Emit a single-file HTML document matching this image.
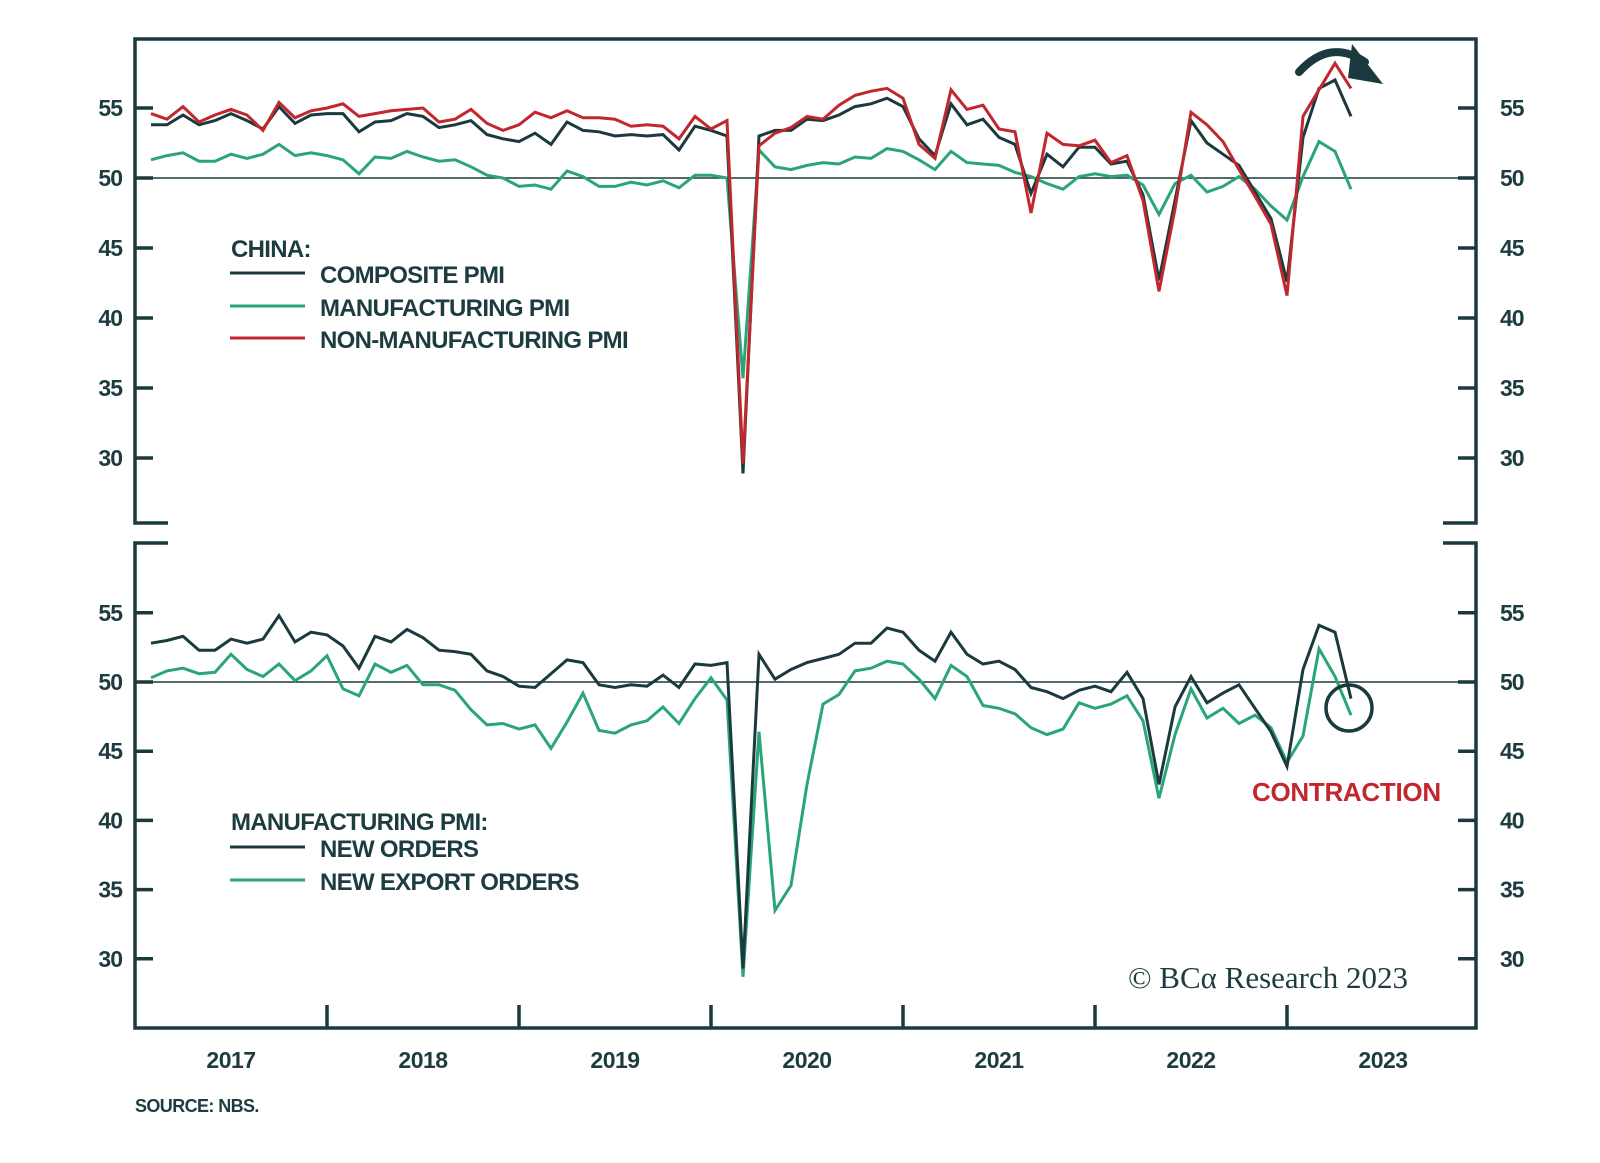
<!DOCTYPE html>
<html><head><meta charset="utf-8"><style>
html,body{margin:0;padding:0;background:#fff;}
svg{display:block;}
text{font-family:"Liberation Sans",sans-serif;font-weight:bold;fill:#1d3c40;}
</style></head><body>
<svg id="chart" width="1600" height="1163" viewBox="0 0 1600 1163" xmlns="http://www.w3.org/2000/svg">
<g id="frame"></g>
<g id="axes"></g>
<g id="series"></g>
<g id="legend-top">
  <text x="231" y="257" font-size="24" letter-spacing="-0.7">CHINA:</text>
  <line x1="230" y1="273" x2="305" y2="273" stroke="#1b3a3d" stroke-width="3"/>
  <text x="320" y="283" font-size="24" letter-spacing="-0.7">COMPOSITE PMI</text>
  <line x1="230" y1="306" x2="305" y2="306" stroke="#2aa57a" stroke-width="3"/>
  <text x="320" y="316" font-size="24" letter-spacing="-0.7">MANUFACTURING PMI</text>
  <line x1="230" y1="338" x2="305" y2="338" stroke="#c1272d" stroke-width="3"/>
  <text x="320" y="348" font-size="24" letter-spacing="-0.7">NON-MANUFACTURING PMI</text>
</g>
<g id="legend-bottom">
  <text x="231" y="830" font-size="24" letter-spacing="-0.7">MANUFACTURING PMI:</text>
  <line x1="230" y1="847" x2="305" y2="847" stroke="#1b3a3d" stroke-width="3"/>
  <text x="320" y="857" font-size="24" letter-spacing="-0.7">NEW ORDERS</text>
  <line x1="230" y1="880" x2="305" y2="880" stroke="#2aa57a" stroke-width="3"/>
  <text x="320" y="890" font-size="24" letter-spacing="-0.7">NEW EXPORT ORDERS</text>
</g>
<g>
  <path d="M1299,72 Q1330,38 1365,62" fill="none" stroke="#1b3a3d" stroke-width="8" stroke-linecap="round"/>
  <polygon points="1352,44 1383,84 1348,78" fill="#1b3a3d"/>
</g>
<circle cx="1349" cy="708" r="23" fill="none" stroke="#1b3a3d" stroke-width="3.5"/>
<text x="1252" y="801" font-size="26" style="fill:#c1272d" letter-spacing="-0.3">CONTRACTION</text>
<text x="1128" y="988" font-size="31" style="font-family:'Liberation Serif',serif;font-weight:normal">© BCα Research 2023</text>
<text x="135" y="1112" font-size="18" letter-spacing="-0.6">SOURCE: NBS.</text>
</svg>
<script>
const composite=[53.8,53.8,54.5,53.8,54.1,54.6,54.1,53.5,55.1,53.9,54.5,54.6,
54.6,53.3,54.0,54.1,54.6,54.4,53.6,53.8,54.1,53.1,52.8,52.6,
53.2,52.4,54.0,53.4,53.3,53.0,53.1,53.0,53.1,52.0,53.7,53.4,
53.0,28.9,53.0,53.4,53.4,54.2,54.1,54.5,55.1,55.3,55.7,55.1,
52.8,51.6,55.3,53.8,54.2,52.9,52.4,48.9,51.7,50.8,52.2,52.2,
51.0,51.2,48.8,42.7,48.4,54.1,52.5,51.7,50.9,49.0,47.1,42.6,
52.9,56.4,57.0,54.4];
const manufacturing=[51.3,51.6,51.8,51.2,51.2,51.7,51.4,51.7,52.4,51.6,51.8,51.6,
51.3,50.3,51.5,51.4,51.9,51.5,51.2,51.3,50.8,50.2,50.0,49.4,
49.5,49.2,50.5,50.1,49.4,49.4,49.7,49.5,49.8,49.3,50.2,50.2,
50.0,35.7,52.0,50.8,50.6,50.9,51.1,51.0,51.5,51.4,52.1,51.9,
51.3,50.6,51.9,51.1,51.0,50.9,50.4,50.1,49.6,49.2,50.1,50.3,
50.1,50.2,49.5,47.4,49.6,50.2,49.0,49.4,50.1,49.2,48.0,47.0,
50.1,52.6,51.9,49.2];
const nonManufacturing=[54.6,54.2,55.1,54.0,54.5,54.9,54.5,53.4,55.4,54.3,54.8,55.0,
55.3,54.4,54.6,54.8,54.9,55.0,54.0,54.2,54.9,53.9,53.4,53.8,
54.7,54.3,54.8,54.3,54.3,54.2,53.7,53.8,53.7,52.8,54.4,53.5,
54.1,29.6,52.3,53.2,53.6,54.4,54.2,55.2,55.9,56.2,56.4,55.7,
52.4,51.4,56.3,54.9,55.2,53.5,53.3,47.5,53.2,52.4,52.3,52.7,
51.1,51.6,48.4,41.9,47.8,54.7,53.8,52.6,50.6,48.7,46.7,41.6,
54.4,56.3,58.2,56.4];
const newOrders=[52.8,53.0,53.3,52.3,52.3,53.1,52.8,53.1,54.8,52.9,53.6,53.4,
52.6,51.0,53.3,52.9,53.8,53.2,52.3,52.2,52.0,50.8,50.4,49.7,
49.6,50.6,51.6,51.4,49.8,49.6,49.8,49.7,50.5,49.6,51.3,51.2,
51.4,29.3,52.0,50.2,50.9,51.4,51.7,52.0,52.8,52.8,53.9,53.6,
52.3,51.5,53.6,52.0,51.3,51.5,50.9,49.6,49.3,48.8,49.4,49.7,
49.3,50.7,48.8,42.6,48.2,50.4,48.5,49.2,49.8,48.1,46.4,43.9,
50.9,54.1,53.6,48.8];
const newExportOrders=[50.3,50.8,51.0,50.6,50.7,52.0,50.9,50.4,51.3,50.1,50.8,51.9,
49.5,49.0,51.3,50.7,51.2,49.8,49.8,49.4,48.0,46.9,47.0,46.6,
46.9,45.2,47.1,49.2,46.5,46.3,46.9,47.2,48.2,47.0,48.8,50.3,
48.7,28.7,46.4,33.5,35.3,42.6,48.4,49.1,50.8,51.0,51.5,51.3,
50.2,48.8,51.2,50.4,48.3,48.1,47.7,46.7,46.2,46.6,48.5,48.1,
48.4,49.0,47.2,41.6,46.2,49.5,47.4,48.1,47.0,47.6,46.7,44.2,
46.1,52.4,50.4,47.6];
const yTicks=[55,50,45,40,35,30];
const yearLabels=["2017","2018","2019","2020","2021","2022","2023"];

const NS="http://www.w3.org/2000/svg";
const L=135,R=1476,MONTH=16;
const C="#1b3a3d";
function xM(i){return L+(i+1)*MONTH;}
function yTop(v){return 178-(v-50)*14;}
function yBot(v){return 682-(v-50)*13.84;}
function mk(tag,attrs,parent){const e=document.createElementNS(NS,tag);for(const k in attrs)e.setAttribute(k,attrs[k]);parent.appendChild(e);return e;}
const frame=document.getElementById('frame'),axes=document.getElementById('axes'),ser=document.getElementById('series');

let p=mk('path',{d:`M${L+33},523 H${L} V39 H${R} V523 H${R-33}`,fill:'none',stroke:C,'stroke-width':3.5},frame);


p=mk('path',{d:`M${L+33},543 H${L} V1028 H${R} V543 H${R-33}`,fill:'none',stroke:C,'stroke-width':3.5},frame);



function panelAxes(yf,name){
  yTicks.forEach(v=>{
    const y=yf(v);
    let t=mk('line',{x1:L,x2:L+18,y1:y,y2:y,stroke:C,'stroke-width':3.5},axes);
    
    
    t=mk('line',{x1:R-18,x2:R,y1:y,y2:y,stroke:C,'stroke-width':3.5},axes);
    
    
    let tx=mk('text',{x:122,y:y+8,'font-size':23,'text-anchor':'end','letter-spacing':'-1'},axes);
    tx.textContent=v;
    
    
    tx=mk('text',{x:1500,y:y+8,'font-size':23,'letter-spacing':'-1'},axes);
    tx.textContent=v;
    
    
  });
  const zl=mk('line',{x1:L,x2:R,y1:yf(50),y2:yf(50),stroke:C,'stroke-width':1.5},axes);
  
  
}
panelAxes(yTop,'top');
panelAxes(yBot,'bottom');

yearLabels.forEach((lab,k)=>{
  const x0=L+k*12*MONTH;
  if(k>0){
    const t=mk('line',{x1:x0,x2:x0,y1:1028,y2:1005,stroke:C,'stroke-width':3.5},axes);
    
    
  }
  const tx=mk('text',{x:x0+6*MONTH,y:1068,'font-size':23,'text-anchor':'middle','letter-spacing':'-0.5'},axes);
  tx.textContent=lab;
  
  
});

function line(data,yf,color,name){
  const d=data.map((v,i)=>(i?'L':'M')+xM(i).toFixed(1)+','+yf(v).toFixed(1)).join(' ');
  const e=mk('path',{d:d,fill:'none',stroke:color,'stroke-width':3,'stroke-linejoin':'miter'},ser);
  
  
}
line(manufacturing,yTop,'#2aa57a','manufacturing-pmi-line');
line(composite,yTop,'#1b3a3d','composite-pmi-line');
line(nonManufacturing,yTop,'#c1272d','non-manufacturing-pmi-line');
line(newExportOrders,yBot,'#2aa57a','new-export-orders-line');
line(newOrders,yBot,'#1b3a3d','new-orders-line');
</script>
</body></html>
